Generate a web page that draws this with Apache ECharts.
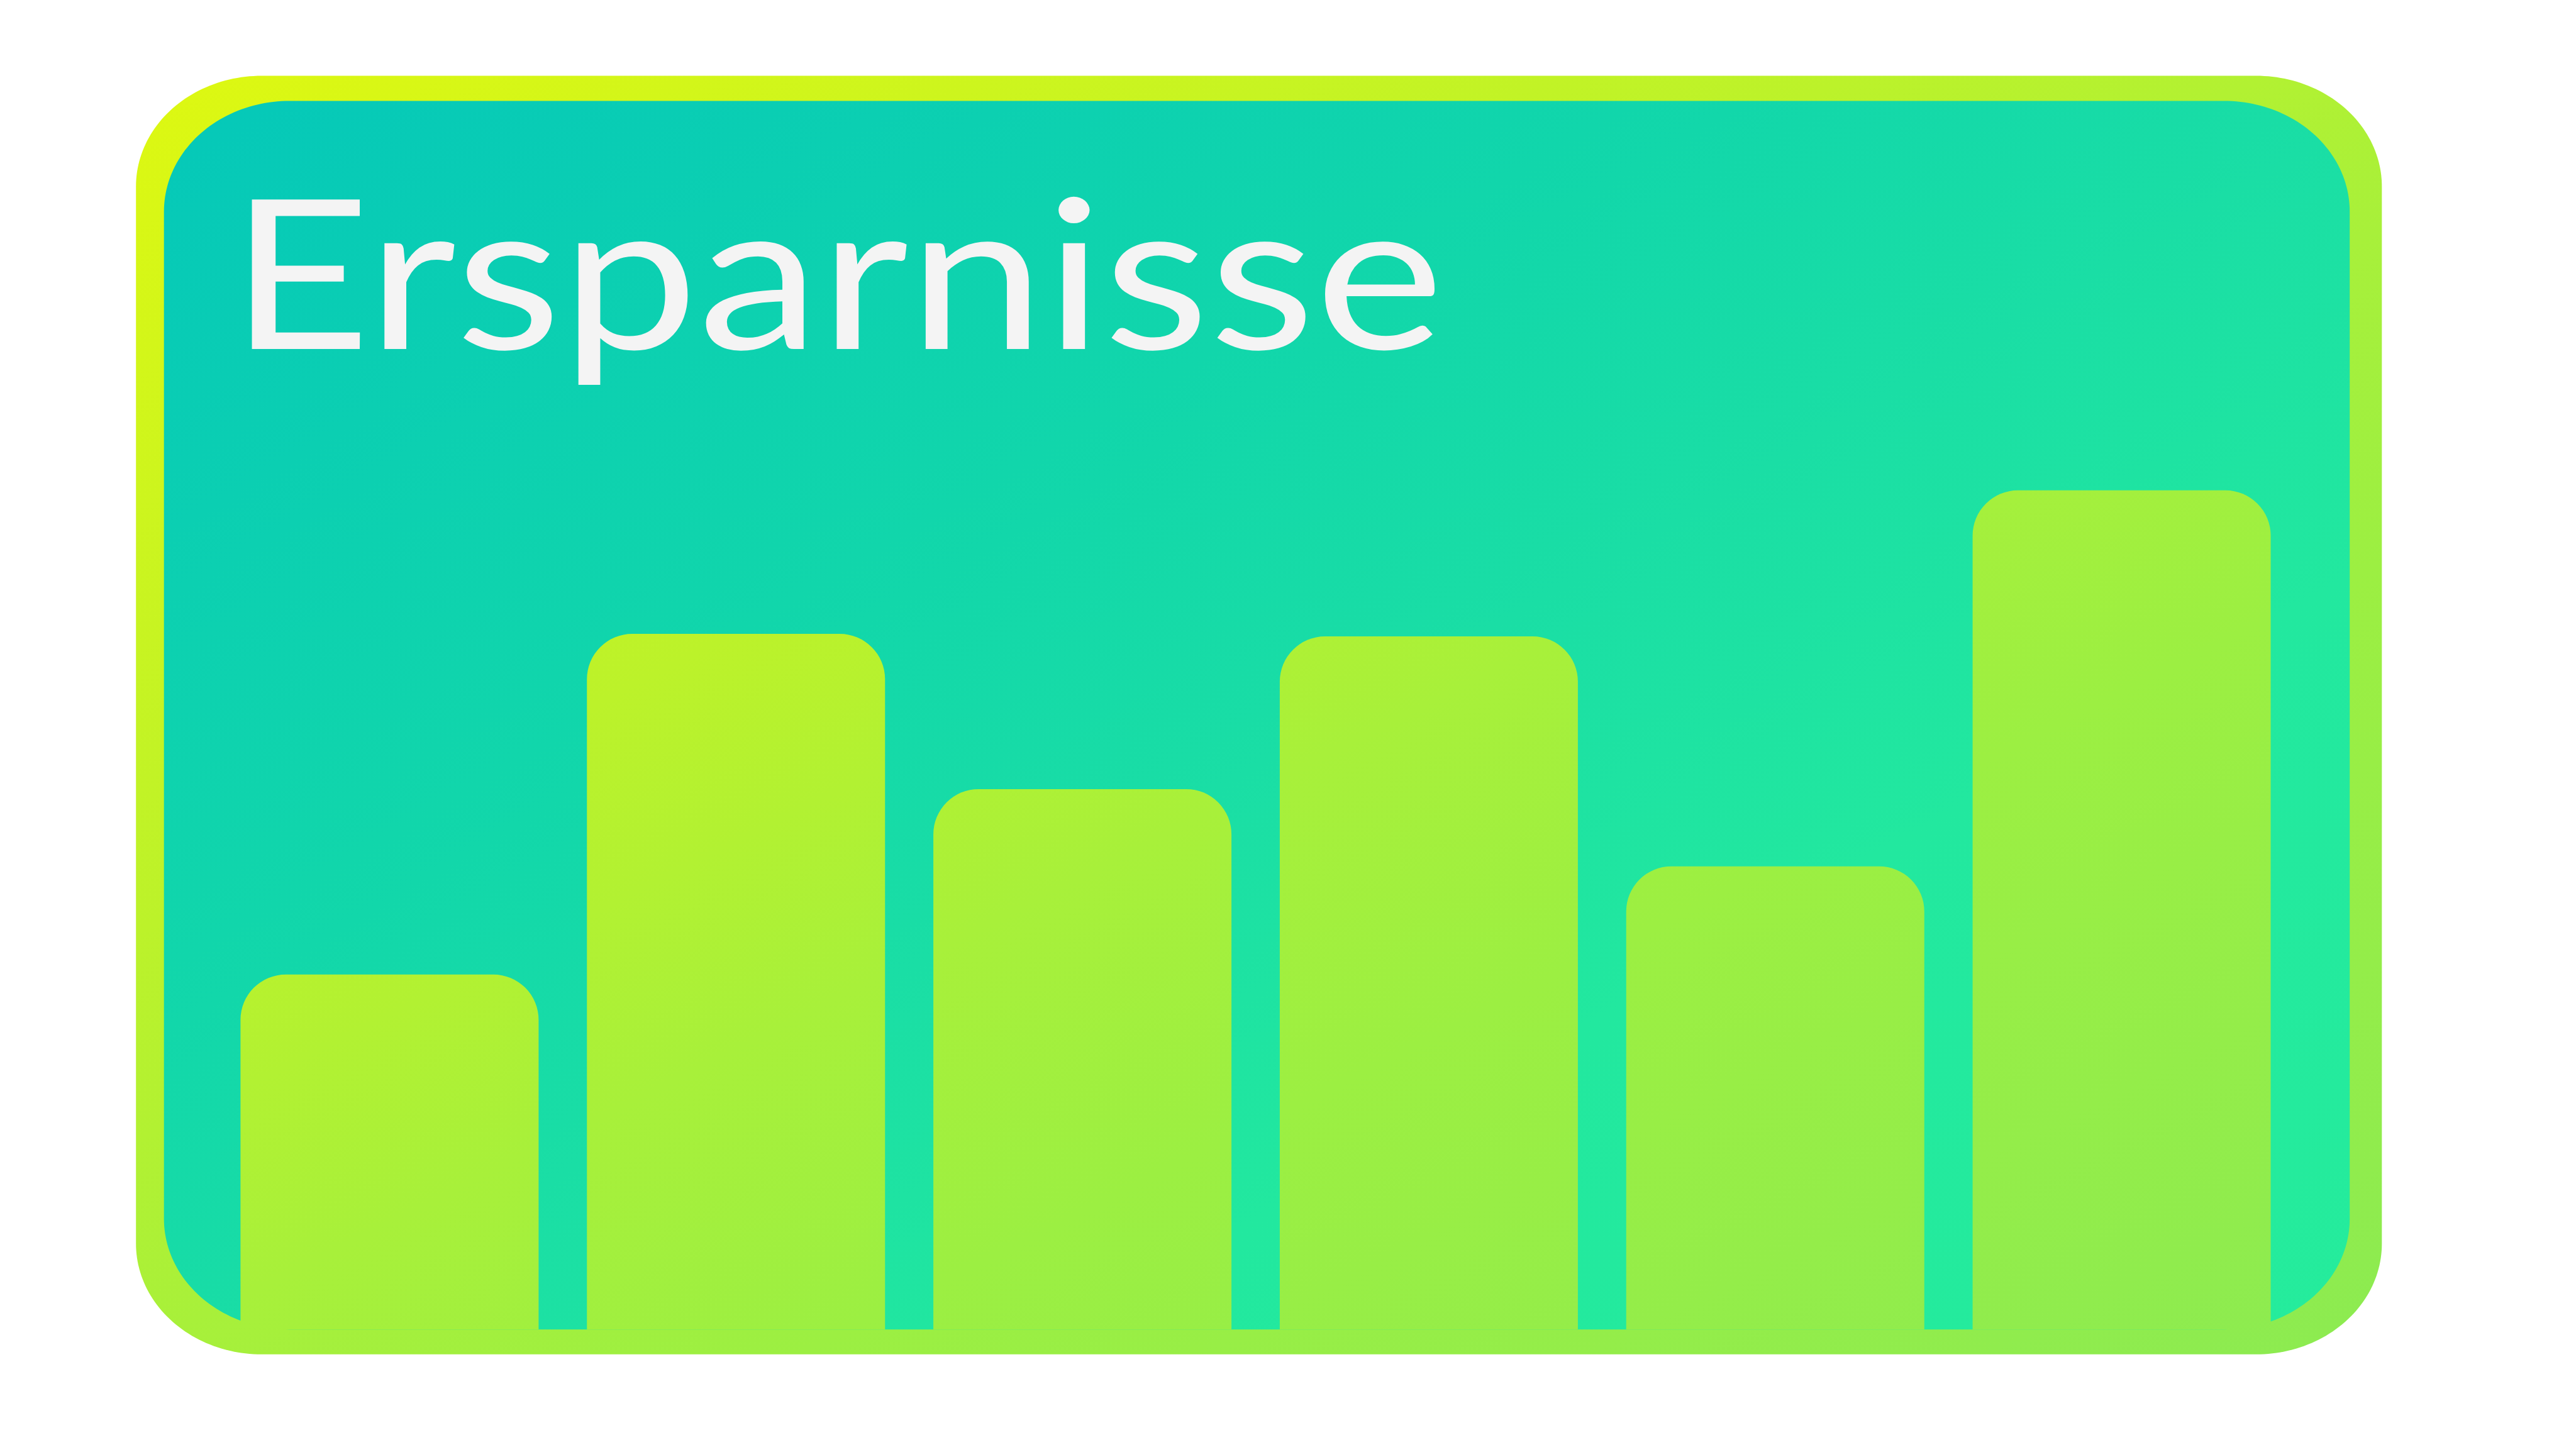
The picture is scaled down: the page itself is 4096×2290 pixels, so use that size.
<!DOCTYPE html>
<html>
<head>
<meta charset="utf-8">
<script src="https://cdn.jsdelivr.net/npm/echarts@6/dist/echarts.min.js"></script>
<style>
  html, body { margin: 0; padding: 0; background: #ffffff; }
  #chart { width: 4096px; height: 2290px; }
</style>
</head>
<body>
<div id="chart"></div>
<script>
// ---- data ----
const titleText = 'Ersparnisse';
const categories = ['Jan', 'Feb', 'Mär', 'Apr', 'Mai', 'Jun'];
const savings = [4230, 8290, 6440, 8260, 5520, 10000];
const yMax = 12000;

// ---- colours ----
const frameStops = [
  { offset: 0, color: '#def811' },
  { offset: 0.357, color: '#bcf22a' },
  { offset: 0.53, color: '#a8f03a' },
  { offset: 0.67, color: '#9cef42' },
  { offset: 1, color: '#8ceb51' }
];
const innerStops = [
  { offset: 0, color: '#05c8b9' },
  { offset: 0.37, color: '#12d7aa' },
  { offset: 0.52, color: '#1adea5' },
  { offset: 0.7, color: '#22e89f' },
  { offset: 1, color: '#25ec9c' }
];

// rounded rectangle outline with elliptical corners, as polygon points
function roundedPoints(x0, y0, x1, y1, rx, ry) {
  const pts = [];
  const n = 48;
  const corners = [
    [x1 - rx, y0 + ry, -Math.PI / 2, 0],
    [x1 - rx, y1 - ry, 0, Math.PI / 2],
    [x0 + rx, y1 - ry, Math.PI / 2, Math.PI],
    [x0 + rx, y0 + ry, Math.PI, 1.5 * Math.PI]
  ];
  corners.forEach(function (c) {
    for (let i = 0; i <= n; i++) {
      const a = c[2] + (c[3] - c[2]) * i / n;
      pts.push([c[0] + rx * Math.cos(a), c[1] + ry * Math.sin(a)]);
    }
  });
  return pts;
}

const frameGrad = {
  type: 'linear', global: true,
  x: 216.2, y: 120.5, x2: 1743.7, y2: 3175.5,
  colorStops: frameStops
};
const innerGrad = {
  type: 'linear', global: true,
  x: 260.7, y: 160.4, x2: 2007.8, y2: 3130.9,
  colorStops: innerStops
};

const chart = echarts.init(document.getElementById('chart'), null, { renderer: 'canvas' });
chart.setOption({
  backgroundColor: '#ffffff',
  animation: false,
  graphic: [
    {
      type: 'polygon', z: -20, silent: true,
      shape: { points: roundedPoints(216.2, 120.5, 3787.3, 2153.8, 200, 176) },
      style: { fill: frameGrad }
    },
    {
      type: 'polygon', z: -10, silent: true,
      shape: { points: roundedPoints(260.7, 160.4, 3736.2, 2114.2, 200, 176) },
      style: { fill: innerGrad }
    },
    {
      type: 'text', z: 100, silent: true,
      x: 365, y: 614,
      scaleX: 1.17, scaleY: 1,
      style: {
        text: titleText,
        fill: '#f4f4f4',
        font: '400 332px Lato',
        textAlign: 'left',
        textVerticalAlign: 'bottom'
      }
    }
  ],
  grid: { left: 344, width: 3305, top: 513, bottom: 175.8, containLabel: false },
  xAxis: {
    type: 'category', data: categories,
    show: false
  },
  yAxis: {
    type: 'value', min: 0, max: yMax, show: false,
    splitLine: { show: false }
  },
  series: [{
    type: 'bar',
    data: savings,
    barWidth: 474,
    itemStyle: { color: frameGrad, borderRadius: [72, 72, 0, 0] },
    z: 5
  }]
});
</script>
</body>
</html>
